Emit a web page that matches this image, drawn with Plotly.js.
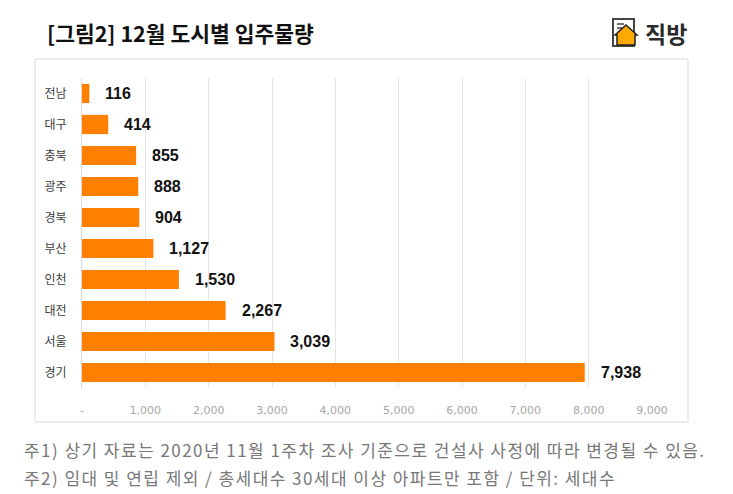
<!DOCTYPE html>
<html><head><meta charset="utf-8">
<script src="https://cdn.plot.ly/plotly-3.0.1.min.js"></script>
<style>html,body{margin:0;padding:0;background:#fff;}#chart{width:733px;height:494px;}</style>
</head><body><div id="chart"></div>
<script>
const cities = ['전남','대구','충북','광주','경북','부산','인천','대전','서울','경기'];
const units = [116,414,855,888,904,1127,1530,2267,3039,7938];
const xTickVals = [0,1000,2000,3000,4000,5000,6000,7000,8000,9000];
const xTickText = ['-','1,000','2,000','3,000','4,000','5,000','6,000','7,000','8,000','9,000'];
const titleText = '[그림2] 12월 도시별 입주물량';
const brandText = '직방';
const notes = ['주1) 상기 자료는 2020년 11월 1주차 조사 기준으로 건설사 사정에 따라 변경될 수 있음.',
               '주2) 임대 및 연립 제외 / 총세대수 30세대 이상 아파트만 포함 / 단위: 세대수'];

const W=733,H=494, L=82,R=652,T=78,B=388;
const px = x => (x-L)/(R-L);
const py = y => (B-y)/(B-T);
const font = '"Noto Sans CJK KR", "Noto Sans", sans-serif';

const trace = {
  type:'bar', orientation:'h', y:cities, x:units,
  marker:{color:'#ff8000'}, hoverinfo:'none'
};

const annotations = units.map((v,i)=>({
  x:v, y:cities[i], xref:'x', yref:'y', text:v.toLocaleString('en-US'),
  showarrow:false, xanchor:'left', xshift:14,
  font:{family:'"Liberation Sans", Arial, sans-serif', size:16, color:'#111', weight:'bold'}
}));
annotations.push(
  {xref:'paper',yref:'paper',x:px(45),y:py(33),xanchor:'left',yanchor:'middle',showarrow:false,
   text:'<b>'+titleText+'</b>',font:{family:font,size:21.5,color:'#111'}},
  {xref:'paper',yref:'paper',x:px(689),y:py(33),xanchor:'right',yanchor:'middle',showarrow:false,
   text:'<b>'+brandText+'</b>',font:{family:font,size:23,color:'#2b2b2b'}},
  {xref:'paper',yref:'paper',x:px(23),y:py(449),xanchor:'left',yanchor:'middle',showarrow:false,
   text:notes[0],font:{family:font,size:17,color:'#777'}},
  {xref:'paper',yref:'paper',x:px(23),y:py(477),xanchor:'left',yanchor:'middle',showarrow:false,
   text:notes[1],font:{family:font,size:17,color:'#777'}}
);

const shapes = [
  {type:'rect',xref:'paper',yref:'paper',x0:px(35),x1:px(688),y0:py(422),y1:py(59),
   line:{color:'#d9d9d9',width:1},layer:'below'},
  {type:'rect',xref:'paper',yref:'paper',x0:px(613),x1:px(634),y0:py(46),y1:py(19),
   line:{color:'#444',width:2},fillcolor:'#fff'},
  {type:'line',xref:'paper',yref:'paper',x0:px(617),x1:px(624),y0:py(24),y1:py(24),line:{color:'#444',width:1.5}},
  {type:'line',xref:'paper',yref:'paper',x0:px(617),x1:px(622),y0:py(28),y1:py(28),line:{color:'#444',width:1.5}},
  {type:'path',xref:'paper',yref:'paper',
   path:`M ${px(617)} ${py(45)} L ${px(617)} ${py(35)} L ${px(615)} ${py(35)} L ${px(626)} ${py(25)} L ${px(637)} ${py(35)} L ${px(635)} ${py(35)} L ${px(635)} ${py(45)} Z`,
   fillcolor:'#ffa800',line:{color:'#222',width:1.5}},
];

const layout = {
  width:W,height:H, margin:{l:L,r:W-R,t:T,b:H-B,pad:0},
  paper_bgcolor:'#fff', plot_bgcolor:'#fff', showlegend:false, bargap:0.38,
  xaxis:{range:[0,9000],tickvals:xTickVals,ticktext:xTickText,showgrid:true,gridcolor:'#e6e6e6',gridwidth:1,
    zeroline:false,showline:false,ticks:'outside',ticklen:12,tickcolor:'rgba(0,0,0,0)',
    tickfont:{family:'"DejaVu Sans", sans-serif',size:11,color:'#a6a6a6'},fixedrange:true},
  yaxis:{autorange:false,range:[9.5,-0.5],type:'category',showgrid:false,zeroline:false,
    showline:true,linecolor:'#d9d9d9',linewidth:1,ticks:'outside',ticklen:12,tickcolor:'rgba(0,0,0,0)',
    tickfont:{family:font,size:12,color:'#404040'},fixedrange:true},
  annotations, shapes
};
Plotly.newPlot('chart',[trace],layout,{displayModeBar:false,staticPlot:true}).then(gd=>{
  const host = gd.getBoundingClientRect();
  gd.querySelectorAll('.annotation-text').forEach(t=>{
    if (notes.includes(t.textContent)) {
      t.style.letterSpacing='1.45px';
      const left = t.getBoundingClientRect().left - host.left;
      const dx = 24 - left;
      t.setAttribute('transform', (t.getAttribute('transform')||'') + ' translate(' + dx + ',0)');
    }
  });
});
</script></body></html>
